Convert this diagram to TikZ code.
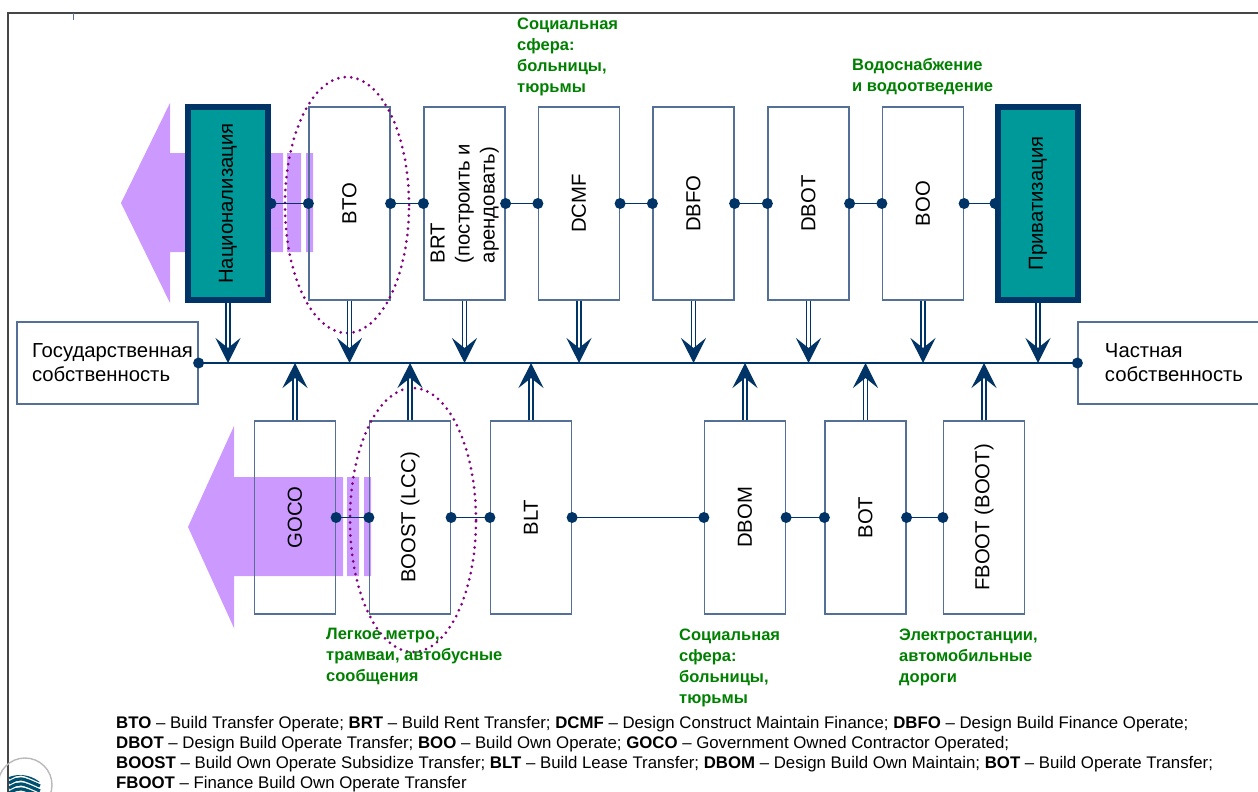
\documentclass[tikz,border=0pt]{standalone}
\usepackage{fontspec}
\setmainfont{Liberation Sans}
\usetikzlibrary{arrows.meta}
\definecolor{NavyClr}{RGB}{0,51,102}
\definecolor{TealClr}{RGB}{0,153,153}
\definecolor{BoxClr}{RGB}{84,112,150}
\definecolor{ArrowClr}{RGB}{204,153,255}
\definecolor{OvalClr}{RGB}{128,0,128}
\definecolor{NoteClr}{RGB}{0,128,0}
\definecolor{FrameClr}{RGB}{70,70,70}
\definecolor{LogoClr}{RGB}{0,80,110}

\begin{document}
\begin{tikzpicture}[x=1pt,y=-1pt,
  box/.style={draw=BoxClr,line width=1.2pt,minimum width=81pt,minimum height=193pt,inner sep=0pt,font=\fontsize{20.3}{25}\selectfont},
  endbox/.style={box,draw=NavyClr,line width=6pt,fill=TealClr,minimum width=80pt},
  ownbox/.style={draw=BoxClr,line width=1.2pt,minimum height=82pt,inner sep=0pt,align=left,font=\fontsize{20.3}{24}\selectfont},
  link/.style={draw=NavyClr,line width=1.8pt},
  joint/.style={circle,fill=NavyClr,inner sep=0pt,minimum size=11pt},
  flow/.style={draw=NavyClr,line width=1.3pt,double=white,double distance=2.6pt,-{Stealth[length=25pt,width=25pt,inset=10pt]}},
  note/.style={text=NoteClr,font=\bfseries\fontsize{16.5}{21}\selectfont,align=left,anchor=north west,inner sep=0pt},
  oval/.style={draw=OvalClr,line width=3pt,dash pattern=on 0pt off 6.5pt,line cap=round}]
\useasboundingbox (0,0) rectangle (1258,792);

\draw[FrameClr,line width=1.5pt] (8,792) -- (8,13) -- (1258,13);
\draw[BoxClr,line width=1pt] (73,13) -- (73,20);
\draw[gray!55,line width=1.4pt] (25,785) circle (27pt);
\begin{scope}
\clip (20,806) circle (31pt);
\foreach \k in {0,...,4}
  \draw[LogoClr,line width=3.2pt] (9,773+5*\k) .. controls (20,767+5*\k) .. (40,776+5*\k);
\end{scope}

\fill[ArrowClr] (121,203) -- (170,103) -- (170,153) -- (283,153) -- (283,252) -- (170,252) -- (170,303) -- cycle;
\fill[ArrowClr] (287,153) rectangle (301,252) (306,153) rectangle (313,252);
\fill[ArrowClr] (188,527) -- (234,426) -- (234,477) -- (343,477) -- (343,576) -- (234,576) -- (234,628) -- cycle;
\fill[ArrowClr] (347,477) rectangle (359,576) (364,477) rectangle (371,576);

\node[endbox] (nat) at (228,203.5) {\rotatebox{90}{Национализация}};
\node[box] (bto) at (349.5,203.5) {\rotatebox{90}{BTO}};
\node[box] (brt) at (464.5,203.5) {\rotatebox{90}{\begin{tabular}{@{}l@{}}BRT\\(построить и\\арендовать)\end{tabular}}};
\node[box] (dcmf) at (579,203.5) {\rotatebox{90}{DCMF}};
\node[box] (dbfo) at (693.5,203.5) {\rotatebox{90}{DBFO}};
\node[box] (dbot) at (808.5,203.5) {\rotatebox{90}{DBOT}};
\node[box] (boo) at (923,203.5) {\rotatebox{90}{BOO}};
\node[endbox] (priv) at (1038,203.5) {\rotatebox{90}{Приватизация}};

\node[box] (goco) at (295,517.5) {\rotatebox{90}{GOCO}};
\node[box] (boost) at (410,517.5) {\rotatebox{90}{BOOST (LCC)}};
\node[box] (blt) at (531,517.5) {\rotatebox{90}{BLT}};
\node[box] (dbom) at (745,517.5) {\rotatebox{90}{DBOM}};
\node[box] (bot) at (865.5,517.5) {\rotatebox{90}{BOT}};
\node[box] (fboot) at (984,517.5) {\rotatebox{90}{FBOOT (BOOT)}};

\node[ownbox,minimum width=181pt] (stateown) at (107.5,363) {\hspace*{10pt}Государственная\\\hspace*{10pt}собственность};
\node[ownbox,minimum width=192pt] (privown) at (1174,363) {Частная\\собственность};

\draw[oval] (347,205) ellipse [x radius=62pt,y radius=128pt];
\draw[oval] (413,520) ellipse [x radius=63pt,y radius=132pt];

\foreach \a/\b in {nat/bto,bto/brt,brt/dcmf,dcmf/dbfo,dbfo/dbot,dbot/boo,boo/priv,goco/boost,boost/blt,blt/dbom,dbom/bot,bot/fboot}
  \draw[link] (\a.east) node[joint]{} -- (\b.west) node[joint]{};
\draw[link] (stateown.east) node[joint]{} -- (privown.west) node[joint]{};

\foreach \b in {nat,bto,brt,dcmf,dbfo,dbot,boo,priv}
  \draw[flow] (\b.south) -- (\b.south |- stateown.east);
\foreach \b in {goco,boost,blt,dbom,bot,fboot}
  \draw[flow] (\b.north) -- (\b.north |- stateown.east);

\node[note] at (517,17.5) {Социальная\\сфера:\\больницы,\\тюрьмы};
\node[note] at (852,58) {Водоснабжение\\и водоотведение};
\node[note] at (326,627.5) {Легкое метро,\\трамваи, автобусные\\сообщения};
\node[note] at (679,628.5) {Социальная\\сфера:\\больницы,\\тюрьмы};
\node[note] at (899,628.5) {Электростанции,\\автомобильные\\дороги};

\node[anchor=north west,inner sep=0pt,align=left,font=\fontsize{16.8}{20}\selectfont] (legend) at (116,716.5)
  {\textbf{BTO} -- Build Transfer Operate; \textbf{BRT} -- Build Rent Transfer; \textbf{DCMF} -- Design Construct Maintain Finance; \textbf{DBFO} -- Design Build Finance Operate;\\
   \textbf{DBOT} -- Design Build Operate Transfer; \textbf{BOO} -- Build Own Operate; \textbf{GOCO} -- Government Owned Contractor Operated;\\
   \textbf{BOOST} -- Build Own Operate Subsidize Transfer; \textbf{BLT} -- Build Lease Transfer; \textbf{DBOM} -- Design Build Own Maintain; \textbf{BOT} -- Build Operate Transfer;\\
   \textbf{FBOOT} -- Finance Build Own Operate Transfer};

\end{tikzpicture}
\end{document}
